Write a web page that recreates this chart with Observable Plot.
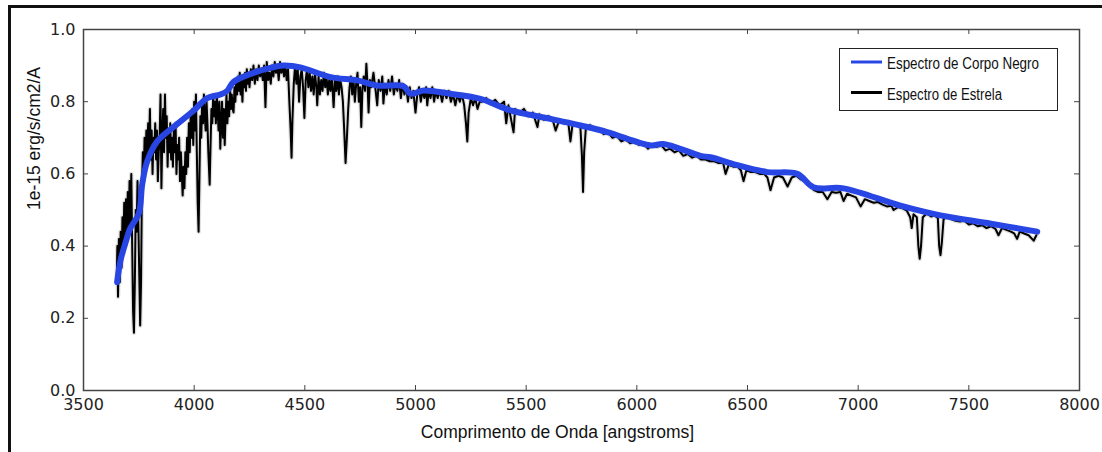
<!DOCTYPE html>
<html><head><meta charset="utf-8">
<script src="https://cdn.jsdelivr.net/npm/d3@7"></script>
<script src="https://cdn.jsdelivr.net/npm/@observablehq/plot@0.6"></script>
<style>
body{margin:0;background:#fff;}
#wrap{position:relative;width:1102px;height:452px;overflow:hidden;background:#fff;}
#border{position:absolute;left:8px;top:5px;width:1110px;height:460px;border-top:3px solid #111;border-left:3px solid #111;pointer-events:none;}
#legend{position:absolute;left:839px;top:48px;overflow:visible;}
</style></head><body>
<div id="wrap"><div id="chart"></div><div id="border"></div><svg id="legend" width="250" height="64"></svg></div>
<script>
const xTicks = [3500, 4000, 4500, 5000, 5500, 6000, 6500, 7000, 7500, 8000];
const yTicks = [0, 0.2, 0.4, 0.6, 0.8, 1.0];
const seriesNames = ["Espectro de Corpo Negro", "Espectro de Estrela"];
const seriesColors = ["#2846e4", "#000000"];
const xLabel = "Comprimento de Onda [angstroms]";
const yLabel = "1e-15 erg/s/cm2/A";

// blackbody curve [wavelength, flux]
const blackbody = [
  [3652,0.30],[3667,0.36],[3690,0.41],[3712,0.45],[3750,0.49],[3765,0.57],[3788,0.635],[3833,0.69],
  [3907,0.73],[3997,0.775],[4059,0.81],[4119,0.82],[4149,0.83],[4178,0.855],[4268,0.88],[4340,0.893],
  [4405,0.90],[4480,0.895],[4616,0.868],[4737,0.859],[4827,0.845],[4946,0.843],[4977,0.822],[5036,0.831],
  [5158,0.822],[5294,0.808],[5429,0.776],[5590,0.755],[5746,0.734],[5866,0.716],[6062,0.679],[6120,0.683],
  [6288,0.65],[6333,0.646],[6450,0.625],[6590,0.605],[6725,0.60],[6798,0.563],[6934,0.56],[7191,0.512],
  [7372,0.485],[7600,0.462],[7809,0.44]
];

// star spectrum [wavelength, flux]
const starSpectrum = [
  [3650,0.30],[3653,0.40],[3656,0.26],[3660,0.42],[3664,0.30],[3668,0.44],[3672,0.34],[3676,0.48],
  [3680,0.38],[3684,0.52],[3688,0.40],[3692,0.53],[3696,0.42],[3700,0.55],[3704,0.44],[3708,0.58],
  [3712,0.46],[3716,0.60],[3720,0.40],[3724,0.22],[3728,0.16],[3732,0.30],[3736,0.50],[3740,0.44],
  [3744,0.58],[3748,0.46],[3752,0.32],[3756,0.18],[3760,0.30],[3764,0.56],[3768,0.66],[3772,0.58],
  [3776,0.70],[3780,0.62],[3784,0.72],[3788,0.64],[3792,0.74],[3796,0.66],[3800,0.78],[3804,0.64],
  [3808,0.72],[3812,0.60],[3816,0.70],[3820,0.66],[3824,0.74],[3828,0.64],[3832,0.72],[3836,0.58],
  [3840,0.66],[3844,0.70],[3848,0.82],[3852,0.56],[3856,0.70],[3860,0.78],[3864,0.66],[3868,0.82],
  [3872,0.70],[3876,0.76],[3880,0.62],[3884,0.72],[3888,0.66],[3892,0.74],[3896,0.64],[3900,0.70],
  [3904,0.62],[3908,0.72],[3912,0.66],[3916,0.74],[3920,0.60],[3924,0.68],[3928,0.64],[3932,0.70],
  [3936,0.58],[3940,0.66],[3944,0.60],[3948,0.54],[3952,0.62],[3956,0.56],[3960,0.66],[3964,0.60],
  [3968,0.70],[3972,0.62],[3976,0.74],[3980,0.66],[3984,0.76],[3988,0.70],[3992,0.78],[3996,0.68],
  [4000,0.80],[4004,0.72],[4008,0.82],[4012,0.66],[4016,0.52],[4020,0.44],[4024,0.60],[4028,0.76],
  [4032,0.70],[4036,0.80],[4040,0.74],[4044,0.82],[4048,0.76],[4052,0.72],[4056,0.80],[4060,0.74],
  [4064,0.66],[4070,0.57],[4074,0.68],[4078,0.78],[4082,0.74],[4086,0.82],[4090,0.76],[4094,0.80],
  [4098,0.74],[4102,0.82],[4106,0.78],[4110,0.72],[4114,0.80],[4118,0.67],[4122,0.74],[4126,0.80],
  [4130,0.70],[4134,0.78],[4138,0.68],[4142,0.76],[4146,0.82],[4150,0.74],[4154,0.80],[4158,0.76],
  [4162,0.84],[4166,0.78],[4170,0.82],[4174,0.78],[4178,0.77],[4182,0.84],[4186,0.80],[4190,0.86],
  [4194,0.82],[4198,0.87],[4202,0.83],[4206,0.88],[4210,0.82],[4214,0.86],[4218,0.80],[4222,0.87],
  [4226,0.84],[4230,0.88],[4234,0.83],[4238,0.89],[4242,0.85],[4246,0.88],[4250,0.84],[4256,0.89],
  [4262,0.86],[4268,0.90],[4274,0.85],[4280,0.89],[4286,0.86],[4292,0.90],[4298,0.87],[4304,0.89],
  [4310,0.86],[4316,0.90],[4322,0.785],[4328,0.91],[4334,0.86],[4340,0.88],[4346,0.85],[4352,0.90],
  [4358,0.87],[4364,0.91],[4370,0.88],[4376,0.90],[4382,0.86],[4388,0.91],[4394,0.88],[4400,0.90],
  [4406,0.87],[4412,0.90],[4418,0.86],[4424,0.89],[4430,0.80],[4436,0.72],[4440,0.645],[4444,0.75],
  [4450,0.85],[4456,0.90],[4462,0.85],[4468,0.89],[4474,0.80],[4480,0.87],[4486,0.89],[4492,0.84],
  [4498,0.755],[4504,0.86],[4510,0.89],[4516,0.84],[4522,0.88],[4528,0.83],[4534,0.87],[4540,0.82],
  [4546,0.88],[4552,0.84],[4556,0.79],[4562,0.87],[4568,0.82],[4574,0.86],[4580,0.83],[4586,0.88],
  [4592,0.84],[4598,0.87],[4604,0.82],[4610,0.86],[4616,0.83],[4622,0.87],[4630,0.785],[4636,0.86],
  [4642,0.83],[4648,0.87],[4654,0.82],[4660,0.86],[4666,0.84],[4672,0.80],[4678,0.72],[4684,0.63],
  [4690,0.70],[4696,0.78],[4702,0.84],[4708,0.87],[4714,0.82],[4720,0.86],[4726,0.80],[4732,0.85],
  [4738,0.88],[4744,0.80],[4750,0.84],[4755,0.73],[4760,0.83],[4766,0.87],[4772,0.83],[4778,0.905],
  [4784,0.84],[4788,0.77],[4794,0.86],[4800,0.84],[4810,0.88],[4820,0.83],[4827,0.79],[4834,0.86],
  [4842,0.83],[4850,0.87],[4855,0.795],[4862,0.85],[4870,0.82],[4878,0.86],[4886,0.83],[4894,0.87],
  [4902,0.82],[4910,0.85],[4918,0.83],[4926,0.86],[4934,0.81],[4942,0.85],[4950,0.82],[4958,0.84],
  [4966,0.80],[4974,0.84],[4982,0.81],[4990,0.83],[5000,0.77],[5008,0.82],[5016,0.84],[5024,0.80],
  [5032,0.83],[5040,0.81],[5048,0.84],[5053,0.79],[5060,0.83],[5068,0.81],[5076,0.84],[5084,0.80],
  [5092,0.83],[5100,0.81],[5110,0.83],[5120,0.80],[5130,0.83],[5140,0.81],[5150,0.83],[5160,0.80],
  [5170,0.82],[5180,0.79],[5190,0.82],[5200,0.80],[5210,0.82],[5220,0.79],[5228,0.74],[5234,0.69],
  [5240,0.77],[5250,0.81],[5260,0.79],[5270,0.81],[5280,0.78],[5290,0.80],
  [5300,0.80],[5320,0.81],[5340,0.795],[5360,0.805],[5380,0.79],[5400,0.80],[5410,0.74],[5420,0.79],
  [5443,0.715],[5450,0.78],[5470,0.77],[5490,0.78],[5510,0.76],[5530,0.77],[5551,0.73],[5560,0.765],
  [5580,0.75],[5600,0.76],[5620,0.75],[5633,0.72],[5650,0.75],[5670,0.74],[5690,0.745],[5700,0.69],
  [5710,0.74],[5730,0.735],[5745,0.73],[5752,0.65],[5757,0.55],[5762,0.66],[5770,0.73],[5790,0.735],
  [5810,0.725],[5830,0.725],[5850,0.71],[5870,0.715],[5890,0.70],[5910,0.705],[5930,0.69],[5950,0.695],
  [5970,0.685],[5990,0.69],[6010,0.68],[6030,0.685],[6050,0.67],[6070,0.68],[6090,0.675],[6110,0.68],
  [6130,0.665],[6150,0.67],[6170,0.66],[6190,0.665],[6210,0.65],[6230,0.655],[6250,0.645],[6270,0.65],
  [6290,0.64],[6310,0.64],[6330,0.635],[6350,0.635],[6370,0.63],[6390,0.63],[6401,0.60],[6415,0.625],
  [6435,0.62],[6455,0.62],[6470,0.61],[6482,0.58],[6495,0.61],[6515,0.605],[6535,0.605],[6555,0.60],
  [6575,0.60],[6590,0.59],[6604,0.555],[6620,0.59],[6640,0.595],[6660,0.59],[6681,0.565],[6700,0.59],
  [6720,0.595],[6740,0.585],[6760,0.58],[6780,0.57],[6800,0.555],[6820,0.55],[6840,0.55],[6861,0.53],
  [6880,0.55],[6900,0.548],[6920,0.55],[6934,0.525],[6950,0.545],[6970,0.54],[6990,0.535],[7011,0.51],
  [7030,0.53],[7050,0.525],[7070,0.52],[7090,0.522],[7110,0.515],[7130,0.51],[7150,0.512],[7160,0.50],
  [7180,0.508],[7200,0.505],[7220,0.498],[7235,0.48],[7242,0.45],[7250,0.488],[7265,0.48],[7272,0.40],
  [7278,0.365],[7284,0.40],[7292,0.48],[7310,0.49],[7330,0.482],[7345,0.485],[7360,0.478],[7366,0.40],
  [7372,0.375],[7378,0.41],[7386,0.475],[7400,0.48],[7420,0.475],[7440,0.47],[7460,0.468],[7480,0.47],
  [7500,0.46],[7520,0.463],[7540,0.455],[7560,0.458],[7580,0.45],[7600,0.455],[7620,0.448],[7634,0.43],
  [7650,0.45],[7670,0.445],[7690,0.44],[7705,0.435],[7718,0.42],[7730,0.44],[7750,0.435],[7770,0.43],
  [7793,0.415],[7805,0.43]
];

const chart = Plot.plot({
  width: 1102,
  height: 452,
  marginLeft: 83,
  marginRight: 23,
  marginTop: 29,
  marginBottom: 62,
  style: {fontFamily: "DejaVu Sans", fontSize: "16px", color: "#222", background: "transparent"},
  x: {domain: [3500, 8000]},
  y: {domain: [0, 1]},
  marks: [
    Plot.line(starSpectrum, {x: d => d[0], y: d => d[1], stroke: "#b8b8b8", strokeWidth: 4.5, strokeOpacity: 0.45}),
    Plot.line(starSpectrum, {x: d => d[0], y: d => d[1], stroke: seriesColors[1], strokeWidth: 2}),
    Plot.line(blackbody, {x: d => d[0], y: d => d[1], stroke: seriesColors[0], strokeWidth: 6, curve: "catmull-rom"}),
    Plot.frame({stroke: "#444", strokeWidth: 1.5}),
    Plot.ruleX(xTicks, {x: d => d, insetTop: 356, stroke: "#444"}),
    Plot.ruleX(xTicks, {x: d => d, insetBottom: 356, stroke: "#444"}),
    Plot.ruleY(yTicks, {y: d => d, insetRight: 991, stroke: "#444"}),
    Plot.ruleY(yTicks, {y: d => d, insetLeft: 991, stroke: "#444"}),
    Plot.axisX(xTicks, {tickSize: 0, tickPadding: 8, label: null, tickFormat: d3.format("d"), fill: "#222"}),
    Plot.axisY(yTicks, {tickSize: 0, tickPadding: 8, label: null, tickFormat: d3.format(".1f"), fill: "#222"}),
    Plot.text([xLabel], {text: d => d, frameAnchor: "bottom", dx: -24, dy: 42, lineAnchor: "middle", fontFamily: "Liberation Sans", fontSize: 17.5, fill: "#111"}),
    Plot.text([yLabel], {text: d => d, frameAnchor: "left", dx: -49, rotate: -90, lineAnchor: "middle", fontFamily: "Liberation Sans", fontSize: 17.5, fill: "#111"})
  ]
});
document.getElementById("chart").appendChild(chart);

// legend
const leg = d3.select("#legend");
leg.append("rect").attr("x", 0.5).attr("y", 0.5).attr("width", 218).attr("height", 62)
  .attr("fill", "#fff").attr("stroke", "#222").attr("stroke-width", 1);
const legendWidths = [152, 115];
seriesNames.forEach((name, i) => {
  const cy = i === 0 ? 14 : 44.5;
  leg.append("line").attr("x1", 12).attr("x2", 43).attr("y1", cy).attr("y2", cy)
    .attr("stroke", seriesColors[i]).attr("stroke-width", 3);
  leg.append("text").attr("x", 48).attr("y", cy + 7)
    .attr("font-family", "Liberation Sans").attr("font-size", 16).attr("fill", "#111")
    .attr("textLength", legendWidths[i]).attr("lengthAdjust", "spacingAndGlyphs")
    .text(name);
});
</script>
</body></html>
